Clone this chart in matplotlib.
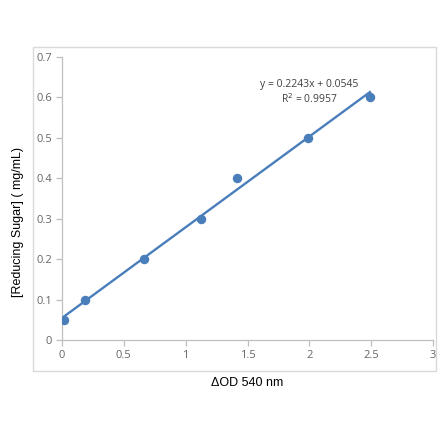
import matplotlib
matplotlib.use("Agg")
import matplotlib.pyplot as plt
from matplotlib.patches import Rectangle
import numpy as np

od = [0.02, 0.19, 0.663, 1.124, 1.415, 1.99, 2.49]
sugar = [0.05, 0.10, 0.20, 0.30, 0.40, 0.50, 0.60]
slope = 0.2243
intercept = 0.0545
xticks = [0, 0.5, 1, 1.5, 2, 2.5, 3]
xtick_labels = ["0", "0.5", "1", "1.5", "2", "2.5", "3"]
yticks = [0, 0.1, 0.2, 0.3, 0.4, 0.5, 0.6, 0.7]
ytick_labels = ["0", "0.1", "0.2", "0.3", "0.4", "0.5", "0.6", "0.7"]

blue = "#4a7ebb"
grey_ax = "#bfbfbf"
grey_txt = "#666666"

fig = plt.figure(figsize=(4.4, 4.41), dpi=100)
fig.patches.append(Rectangle((0.075, 0.159), 0.916, 0.734, transform=fig.transFigure,
                             fill=False, edgecolor="#d9d9d9", linewidth=1.0))
ax = fig.add_axes([0.1409, 0.229, 0.8432, 0.642])

xl = np.array([0.0, max(od)])
ax.plot(xl, slope * xl + intercept, color=blue, linewidth=1.7, zorder=2)
ax.plot(od, sugar, "o", color=blue, markersize=5.8, zorder=3)

ax.set_xlim(0, 3)
ax.set_ylim(0, 0.7)
ax.set_xticks(xticks)
ax.set_xticklabels(xtick_labels)
ax.set_yticks(yticks)
ax.set_yticklabels(ytick_labels)
for s in ["top", "right"]:
    ax.spines[s].set_visible(False)
for s in ["left", "bottom"]:
    ax.spines[s].set_color(grey_ax)
    ax.spines[s].set_linewidth(0.9)
ax.tick_params(axis="both", colors=grey_ax, labelcolor=grey_txt, labelsize=8,
               length=4, width=0.9, direction="out", pad=3)
for lab in ax.get_xticklabels() + ax.get_yticklabels():
    lab.set_fontfamily("Open Sans")

ax.text(2.0, 0.632, "y = 0.2243x + 0.0545", ha="center", va="center",
        fontsize=7.5, color="#404040", family="Open Sans")
ax.text(2.0, 0.596, "R$^2$ = 0.9957", ha="center", va="center",
        fontsize=7.5, color="#404040", family="Open Sans")

fig.text(0.5625, 1 - 383 / 441, "\u0394OD 540 nm", ha="center", va="center",
         fontsize=9, family="Liberation Sans", color="black")
fig.text(18 / 440, 1 - 222 / 441, "[Reducing Sugar] ( mg/mL)", ha="center", va="center",
         rotation=90, fontsize=9, family="Liberation Sans", color="black")

fig.savefig("out.png", dpi=100, facecolor="white")
